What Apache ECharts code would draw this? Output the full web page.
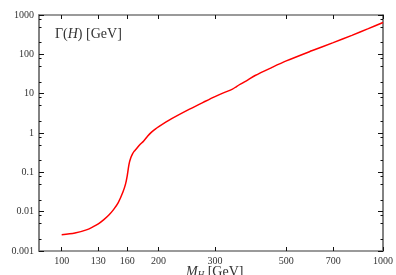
<!DOCTYPE html>
<html><head><meta charset="utf-8">
<script src="https://cdn.jsdelivr.net/npm/echarts@6/dist/echarts.min.js"></script>
<style>html,body{margin:0;padding:0;background:#fff}#c{width:396px;height:275px}</style>
</head><body><div id="c"></div>
<script>
// Higgs mass (GeV)
var masses = [100,110,120,125,130,135,140,145,150,155,158,160,162,164,166,168,170,175,180,185,190,195,200,220,250,280,300,320,340,350,360,380,400,450,500,600,700,800,900,1000];
// Total width Γ(H) (GeV)
var widths = [0.0026,0.00285,0.0035,0.0041,0.0049,0.0062,0.0081,0.0113,0.017,0.031,0.05,0.083,0.16,0.23,0.29,0.34,0.38,0.5,0.63,0.83,1.04,1.23,1.43,2.31,4.04,6.4,8.4,10.6,13.0,15.2,17.5,22.5,29,46,68,123,199,304,449,647];
var xTicks = [100,130,160,200,300,500,700,1000];
var yTicks = [0.001,0.01,0.1,1,10,100,1000];
var yMinor = [0.002,0.005,0.008,0.02,0.05,0.08,0.2,0.5,0.8,2,5,8,20,50,80,200,500,800];
var yLabels = ['0.001','0.01','0.1','1','10','100','1000'];

var serif = '"Liberation Serif","DejaVu Serif",serif';
var lineCol = '#7a7a7a';
var chart = echarts.init(document.getElementById('c'));
function baseX(pos, showLabel){
  return {
    type:'log', position:pos, min:85, max:1000, gridIndex:0,
    axisLine:{show:true, lineStyle:{color:lineCol, width:1.5}},
    axisTick:{show:true, inside:true, length:4, customValues:xTicks, lineStyle:{color:'#111', width:1}},
    axisLabel:{show:showLabel, customValues:xTicks, margin:5, fontFamily:serif, fontSize:10, color:'#333',
      formatter:function(v){return String(Math.round(v));}},
    splitLine:{show:false}, minorTick:{show:false}
  };
}
function baseY(pos, showLabel, ticks, len){
  return {
    type:'log', position:pos, min:0.001, max:1000,
    axisLine:{show:true, lineStyle:{color:lineCol, width:1.5}},
    axisTick:{show:true, inside:true, length:len, customValues:ticks, lineStyle:{color:'#111', width:1}},
    axisLabel:{show:showLabel, customValues:yTicks, margin:5, fontFamily:serif, fontSize:10, color:'#333',
      formatter:function(v){var i=yTicks.indexOf(v); if(i<0){for(var k=0;k<yTicks.length;k++){if(Math.abs(Math.log10(v)-Math.log10(yTicks[k]))<1e-6)i=k;}} return i>=0?yLabels[i]:'';}},
    splitLine:{show:false}, minorTick:{show:false}
  };
}
chart.setOption({
  animation:false,
  grid:{left:39, right:13, top:15, bottom:24, containLabel:false},
  xAxis:[baseX('bottom', true), baseX('top', false)],
  yAxis:[baseY('left', true, yTicks, 5), baseY('right', false, yTicks, 5),
         baseY('left', false, yMinor, 2.5), baseY('right', false, yMinor, 2.5)],
  graphic:[
    {type:'text', left:55, top:27, style:{text:'{n|Γ(}{i|H}{n|) [GeV]}', rich:{
      n:{fontFamily:serif, fontSize:14, fill:'#333'}, i:{fontFamily:serif, fontSize:14, fontStyle:'italic', fill:'#333'}}}},
    {type:'text', left:186, top:265, style:{text:'{i|M}{s|H}{n| [GeV]}', rich:{
      n:{fontFamily:serif, fontSize:14, fill:'#333'}, i:{fontFamily:serif, fontSize:14, fontStyle:'italic', fill:'#333'},
      s:{fontFamily:serif, fontSize:9, fontStyle:'italic', fill:'#333', verticalAlign:'bottom', padding:[6,0,0,0]}}}}
  ],
  series:[{
    type:'line', xAxisIndex:0, yAxisIndex:0, showSymbol:false, smooth:0.3,
    data: masses.map(function(m,i){return [m, widths[i]];}),
    lineStyle:{color:'#ff0000', width:1.5}
  }]
});
</script></body></html>
